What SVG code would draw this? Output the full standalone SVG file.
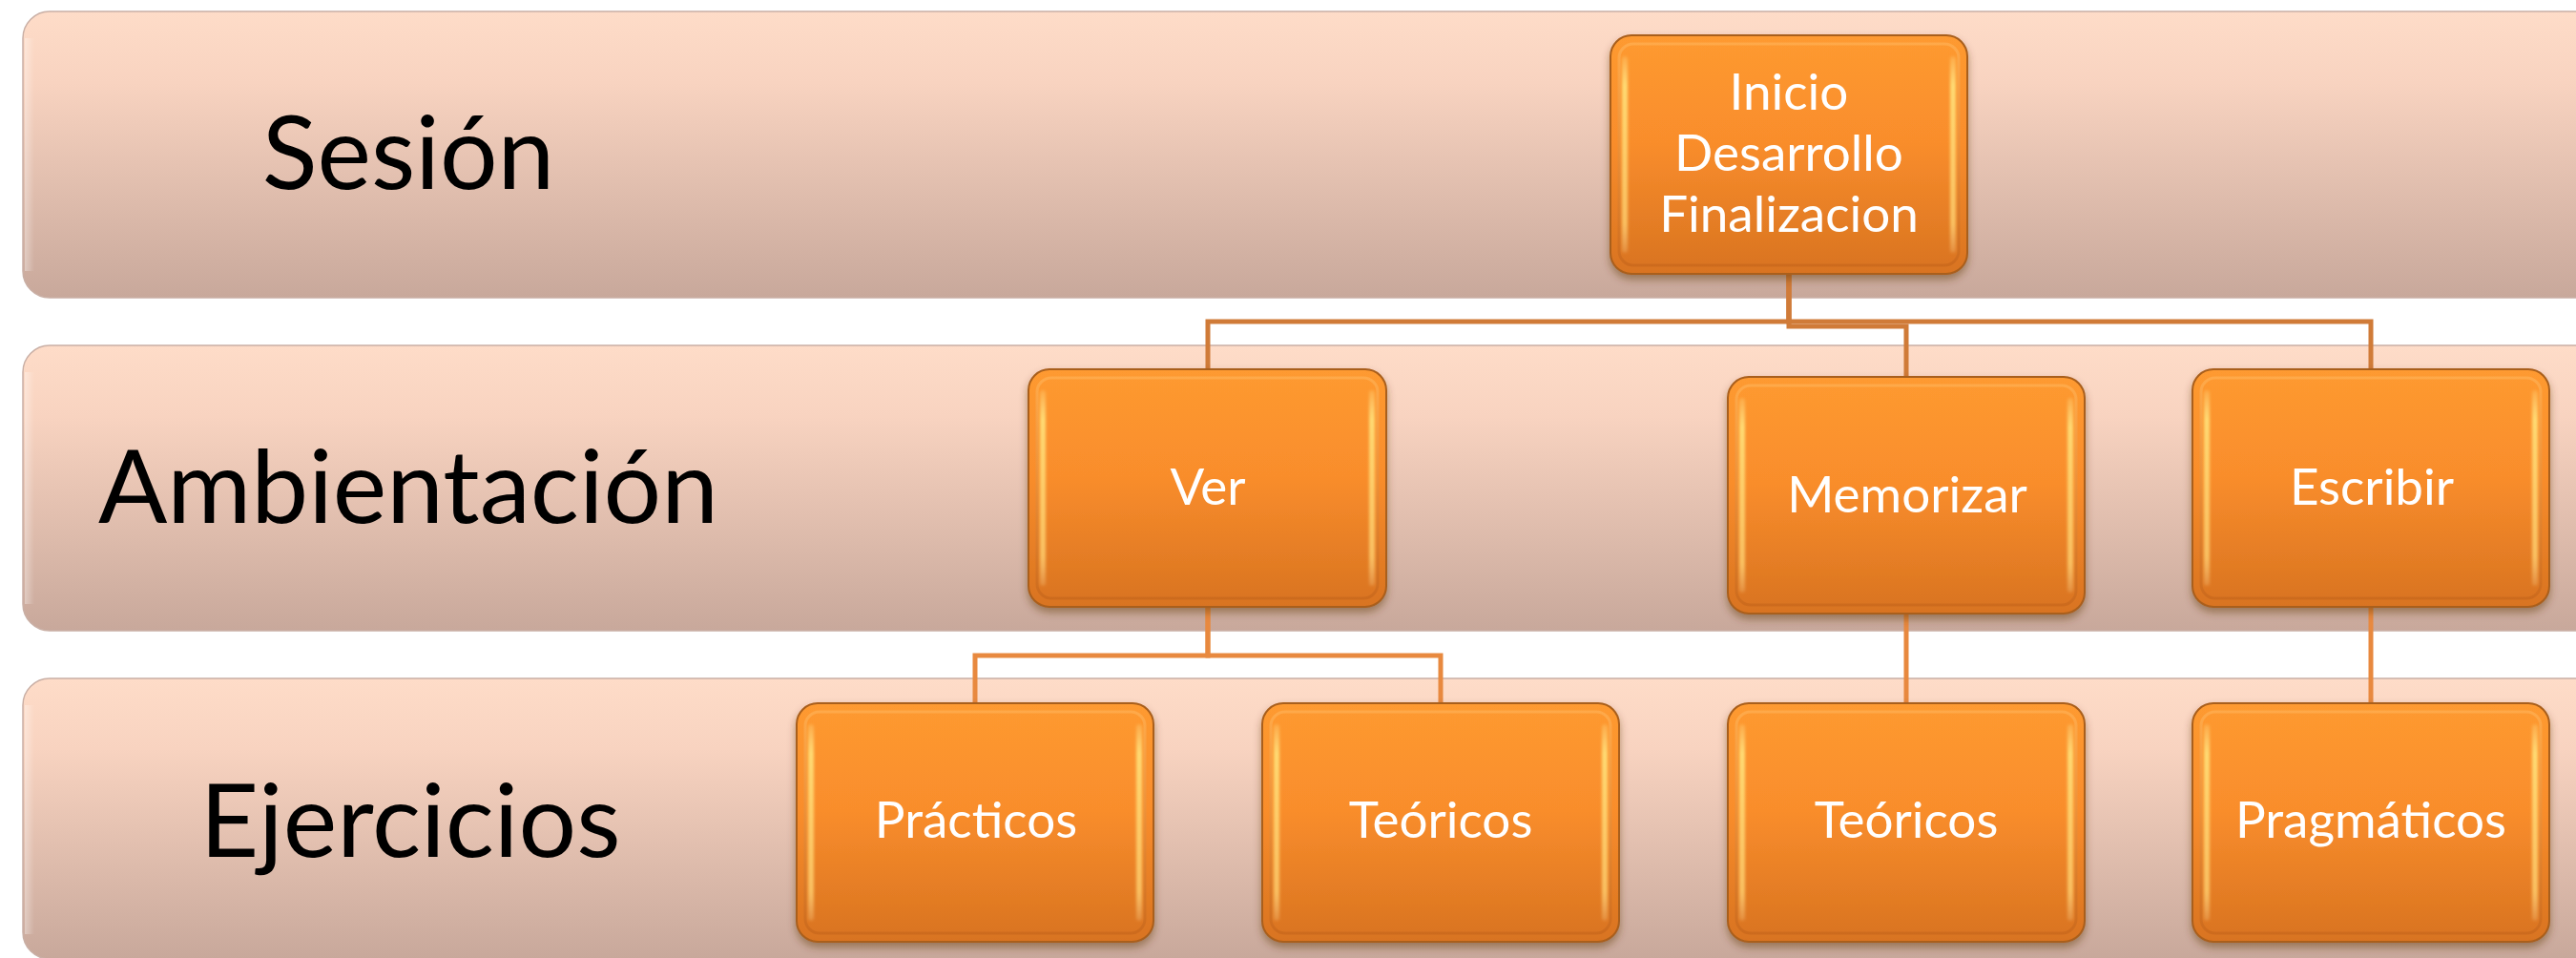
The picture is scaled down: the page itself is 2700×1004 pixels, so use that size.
<svg xmlns="http://www.w3.org/2000/svg" width="2700" height="1004" viewBox="0 0 2700 1004">
<style>
.band{fill:url(#bandGrad);stroke:#C9AFA5;stroke-width:1.5}
.bandHi{fill:url(#bandEdge)}
.lbl{font-family:Lato,"Liberation Sans",sans-serif;font-size:107px;fill:#000;text-anchor:middle}
.box{fill:url(#boxGrad);stroke:#A95E1C;stroke-width:2}
.inner{fill:none;stroke:url(#innerStroke);stroke-width:3}
.hl{fill:url(#hlGrad);filter:url(#soft)}
.txt{font-family:Lato,"Liberation Sans",sans-serif;font-size:53px;fill:#fff;text-anchor:middle}
.con{fill:none;stroke:#D07B38;stroke-width:5;stroke-linejoin:miter}
.con2{fill:none;stroke:#E8893F;stroke-width:5;stroke-linejoin:miter}
</style>
<defs>
<linearGradient id="bandGrad" x1="0" y1="0" x2="0" y2="1">
<stop offset="0" stop-color="#FEDCC8"/>
<stop offset="0.25" stop-color="#F8D3C0"/>
<stop offset="1" stop-color="#C8A89B"/>
</linearGradient>
<linearGradient id="bandEdge" x1="0" y1="0" x2="1" y2="0">
<stop offset="0" stop-color="#fff" stop-opacity="0.35"/>
<stop offset="1" stop-color="#fff" stop-opacity="0"/>
</linearGradient>
<linearGradient id="boxGrad" x1="0" y1="0" x2="0" y2="1">
<stop offset="0" stop-color="#FE9A30"/>
<stop offset="0.45" stop-color="#F98D2C"/>
<stop offset="1" stop-color="#D87320"/>
</linearGradient>
<linearGradient id="innerStroke" x1="0" y1="0" x2="0" y2="1">
<stop offset="0" stop-color="#FFB45A" stop-opacity="0.6"/>
<stop offset="1" stop-color="#C9681C" stop-opacity="0.8"/>
</linearGradient>
<linearGradient id="hlGrad" x1="0" y1="0" x2="0" y2="1">
<stop offset="0" stop-color="#FFF0A0" stop-opacity="0.2"/>
<stop offset="0.15" stop-color="#FFE27A" stop-opacity="0.9"/>
<stop offset="0.85" stop-color="#FFD070" stop-opacity="0.8"/>
<stop offset="1" stop-color="#FFE0A0" stop-opacity="0.2"/>
</linearGradient>
<filter id="shadow" x="-10%" y="-10%" width="120%" height="125%">
<feDropShadow dx="0" dy="5" stdDeviation="4" flood-color="#5A3010" flood-opacity="0.45"/>
</filter>
<filter id="soft" x="-50%" y="-10%" width="200%" height="120%">
<feGaussianBlur stdDeviation="1.5"/>
</filter>
</defs>

<g id="bands">
<g id="band-sesion">
<rect class="band" x="24" y="12" width="2720" height="300" rx="28"/>
<rect class="bandHi" x="26" y="40" width="10" height="244"/>
<text class="lbl" x="428" y="198">Sesión</text>
</g>
<g id="band-ambientacion">
<rect class="band" x="24" y="362" width="2720" height="299" rx="28"/>
<rect class="bandHi" x="26" y="390" width="10" height="243"/>
<text class="lbl" x="428" y="548">Ambientación</text>
</g>
<g id="band-ejercicios">
<rect class="band" x="24" y="711" width="2720" height="294" rx="28"/>
<rect class="bandHi" x="26" y="739" width="10" height="240"/>
<text class="lbl" x="430" y="898">Ejercicios</text>
</g>
</g>

<g id="connectors">
<path class="con" d="M1875,286 V337 H1266 V387"/>
<path class="con" d="M1875,286 V337 H2485 V387"/>
<path class="con" d="M1875,286 V342 H1998 V395"/>
<path class="con2" d="M1266,636 V687 H1022 V737"/>
<path class="con2" d="M1266,636 V687 H1510 V737"/>
<path class="con2" d="M1998,643 V737"/>
<path class="con2" d="M2485,636 V737"/>
</g>

<g id="node-sesion" transform="translate(1688,37)">
<rect class="box" width="374" height="250" rx="22" filter="url(#shadow)"/>
<rect class="inner" x="9" y="9" width="356" height="232" rx="15"/>
<rect class="hl" x="12" y="22" width="6" height="206" rx="3"/>
<rect class="hl" x="356" y="22" width="6" height="206" rx="3"/>
<text class="txt" x="187" y="78">Inicio</text>
<text class="txt" x="187" y="142">Desarrollo</text>
<text class="txt" x="187" y="206">Finalizacion</text>
</g>

<g id="node-ver" transform="translate(1078,387)">
<rect class="box" width="375" height="249" rx="22" filter="url(#shadow)"/>
<rect class="inner" x="9" y="9" width="357" height="231" rx="15"/>
<rect class="hl" x="12" y="22" width="6" height="205" rx="3"/>
<rect class="hl" x="357" y="22" width="6" height="205" rx="3"/>
<text class="txt" x="188" y="142">Ver</text>
</g>

<g id="node-memorizar" transform="translate(1811,395)">
<rect class="box" width="374" height="248" rx="22" filter="url(#shadow)"/>
<rect class="inner" x="9" y="9" width="356" height="230" rx="15"/>
<rect class="hl" x="12" y="22" width="6" height="204" rx="3"/>
<rect class="hl" x="356" y="22" width="6" height="204" rx="3"/>
<text class="txt" x="188" y="142">Memorizar</text>
</g>

<g id="node-escribir" transform="translate(2298,387)">
<rect class="box" width="374" height="249" rx="22" filter="url(#shadow)"/>
<rect class="inner" x="9" y="9" width="356" height="231" rx="15"/>
<rect class="hl" x="12" y="22" width="6" height="205" rx="3"/>
<rect class="hl" x="356" y="22" width="6" height="205" rx="3"/>
<text class="txt" x="188" y="142">Escribir</text>
</g>

<g id="node-practicos" transform="translate(835,737)">
<rect class="box" width="374" height="250" rx="22" filter="url(#shadow)"/>
<rect class="inner" x="9" y="9" width="356" height="232" rx="15"/>
<rect class="hl" x="12" y="22" width="6" height="206" rx="3"/>
<rect class="hl" x="356" y="22" width="6" height="206" rx="3"/>
<text class="txt" x="188" y="141">Prácticos</text>
</g>

<g id="node-teoricos-1" transform="translate(1323,737)">
<rect class="box" width="374" height="250" rx="22" filter="url(#shadow)"/>
<rect class="inner" x="9" y="9" width="356" height="232" rx="15"/>
<rect class="hl" x="12" y="22" width="6" height="206" rx="3"/>
<rect class="hl" x="356" y="22" width="6" height="206" rx="3"/>
<text class="txt" x="187" y="141">Teóricos</text>
</g>

<g id="node-teoricos-2" transform="translate(1811,737)">
<rect class="box" width="374" height="250" rx="22" filter="url(#shadow)"/>
<rect class="inner" x="9" y="9" width="356" height="232" rx="15"/>
<rect class="hl" x="12" y="22" width="6" height="206" rx="3"/>
<rect class="hl" x="356" y="22" width="6" height="206" rx="3"/>
<text class="txt" x="187" y="141">Teóricos</text>
</g>

<g id="node-pragmaticos" transform="translate(2298,737)">
<rect class="box" width="374" height="250" rx="22" filter="url(#shadow)"/>
<rect class="inner" x="9" y="9" width="356" height="232" rx="15"/>
<rect class="hl" x="12" y="22" width="6" height="206" rx="3"/>
<rect class="hl" x="356" y="22" width="6" height="206" rx="3"/>
<text class="txt" x="187" y="141">Pragmáticos</text>
</g>
</svg>
